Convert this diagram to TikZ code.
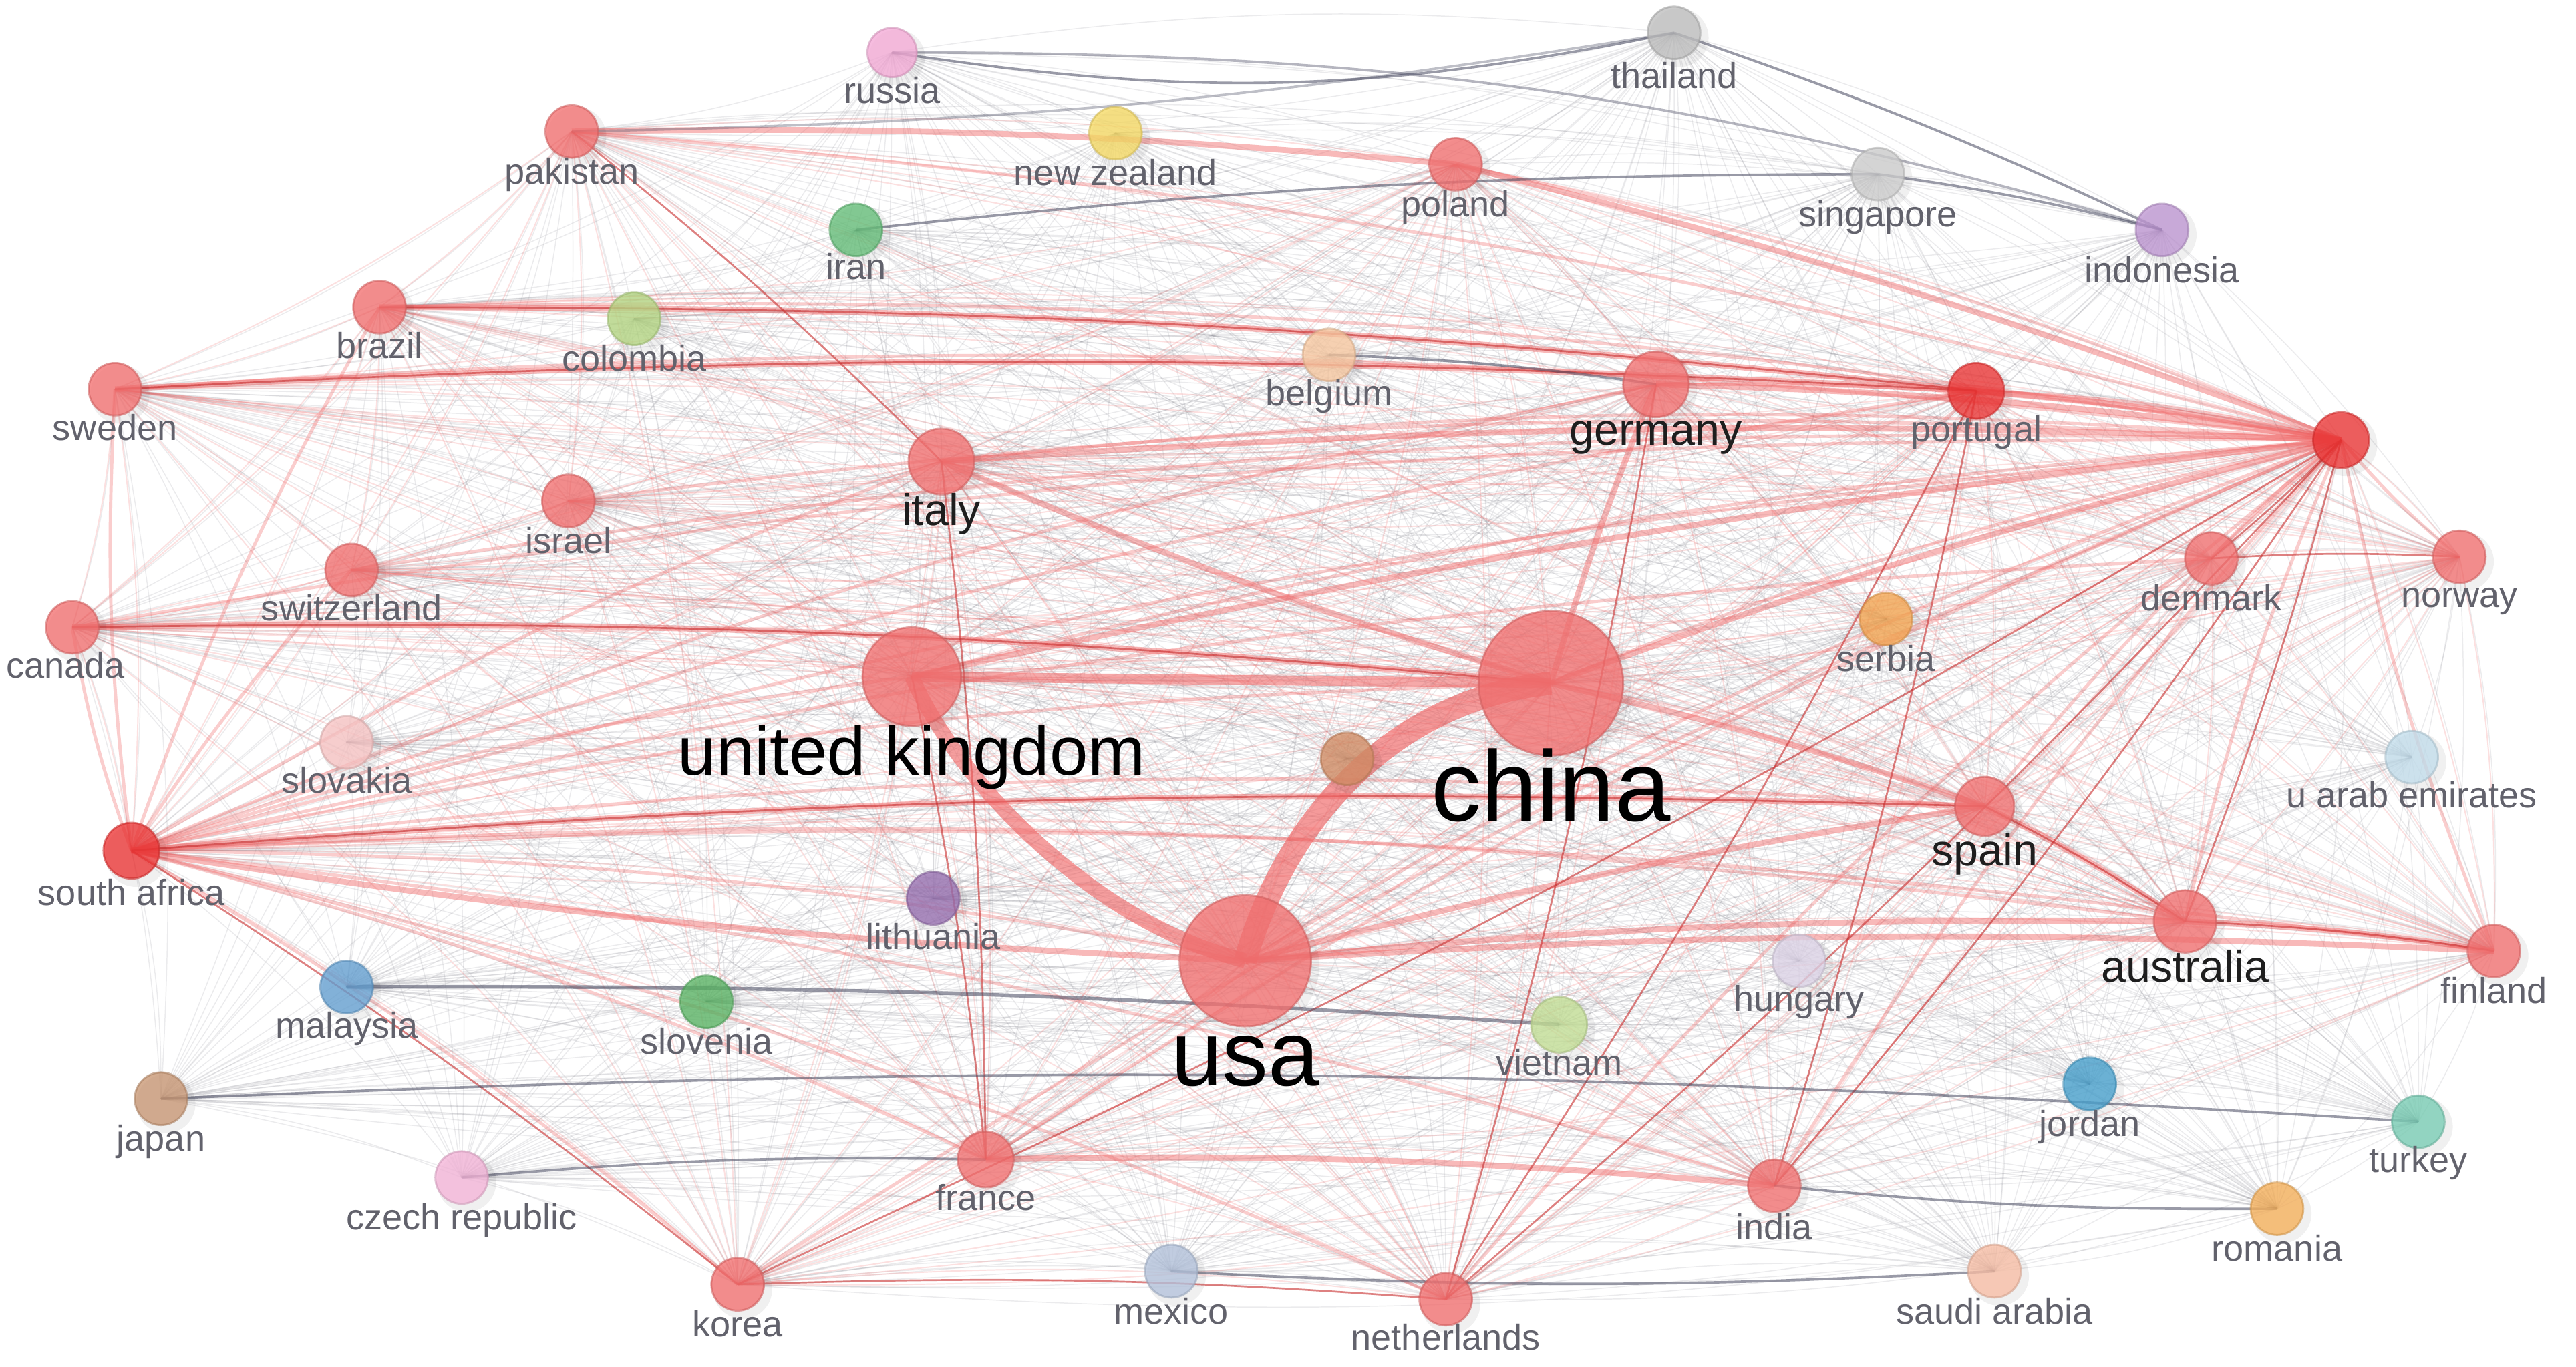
\documentclass[tikz,border=0pt]{standalone}
\usepackage{fontspec}
\setmainfont{Liberation Sans}
\definecolor{cred}{RGB}{243,112,112}
\definecolor{credd}{RGB}{236,52,52}
\definecolor{cedge}{RGB}{240,100,100}
\definecolor{cdark}{RGB}{200,45,45}
\definecolor{cgray}{RGB}{120,120,130}
\definecolor{cdgray}{RGB}{70,72,95}
\definecolor{clab}{RGB}{98,98,108}
\definecolor{clabm}{RGB}{30,30,30}
\definecolor{crussia}{RGB}{244,170,214}
\definecolor{cthai}{RGB}{190,190,190}
\definecolor{csing}{RGB}{205,205,205}
\definecolor{cnz}{RGB}{246,218,100}
\definecolor{cindo}{RGB}{190,150,210}
\definecolor{ciran}{RGB}{100,190,120}
\definecolor{ccol}{RGB}{180,214,130}
\definecolor{cbel}{RGB}{248,200,160}
\definecolor{cserb}{RGB}{245,165,80}
\definecolor{cslovak}{RGB}{248,196,196}
\definecolor{cbrown}{RGB}{210,140,100}
\definecolor{cuae}{RGB}{195,222,236}
\definecolor{clith}{RGB}{150,110,175}
\definecolor{chung}{RGB}{222,212,232}
\definecolor{cmal}{RGB}{100,160,210}
\definecolor{cslov}{RGB}{90,180,100}
\definecolor{cviet}{RGB}{196,224,150}
\definecolor{cjord}{RGB}{70,160,205}
\definecolor{cjap}{RGB}{200,150,115}
\definecolor{cturk}{RGB}{120,205,180}
\definecolor{cczech}{RGB}{244,180,216}
\definecolor{crom}{RGB}{246,176,90}
\definecolor{cmex}{RGB}{180,195,220}
\definecolor{csaudi}{RGB}{248,190,165}
\tikzset{
  mesh/.style={draw=cgray, line width=.3pt, opacity=.14},
  meshred/.style={draw=cedge, line width=.4pt, opacity=.2},
  redmed/.style={draw=cedge, line width=1pt, opacity=.32},
  redstrong/.style={draw=cedge, line width=1.8pt, opacity=.45},
  darkred/.style={draw=cdark, line width=.55pt, opacity=.6},
  darkgray/.style={draw=cdgray, line width=.75pt, opacity=.55},
  country/.style={circle, inner sep=0pt, fill opacity=.78, draw opacity=.6, line width=.6pt},
  lbl/.style={font=\fontsize{11}{13}\selectfont, text=clab, anchor=base, inner sep=0pt},
  lblm/.style={font=\fontsize{13.5}{16}\selectfont, text=clabm, anchor=base, inner sep=0pt},
  lblb/.style={text=black, anchor=base, inner sep=0pt},
}
\def\nodedata{russia/543/32/15/crussia, thailand/1019/20/16/cthai, pakistan/348/80/16/cred,
newzealand/679/81/16/cnz, poland/886/100/16/cred, singapore/1143/106/16/csing,
indonesia/1316/140/16/cindo, iran/521/140/16/ciran, brazil/231/187/16/cred,
colombia/386/194/16/ccol, belgium/809/216/16/cbel, germany/1008/234/20/cred,
portugal/1203/238/17/credd, rnode/1425/268/17/credd, sweden/70/237/16/cred,
italy/573/281/20/cred, israel/346/305/16/cred, denmark/1346/340/16/cred,
norway/1497/339/16/cred, switzerland/214/347/16/cred, canada/44/382/16/cred,
serbia/1148/377/16/cserb, uk/555/412/30/cred, china/944/416/44/cred,
slovakia/211/452/16/cslovak, brownnode/820/462/16/cbrown, uae/1468/461/16/cuae,
spain/1208/491/18/cred, safrica/80/518/17/credd, lithuania/568/547/16/clith,
australia/1330/561/19/cred, usa/758/585/40/cred, finland/1518/579/16/cred,
hungary/1095/585/16/chung, malaysia/211/601/16/cmal, slovenia/430/610/16/cslov,
vietnam/949/624/17/cviet, jordan/1272/660/16/cjord, japan/98/669/16/cjap,
turkey/1472/683/16/cturk, france/600/706/17/cred, czech/281/717/16/cczech,
india/1080/722/16/cred, romania/1386/736/16/crom, korea/449/782/16/cred,
mexico/713/774/16/cmex, netherlands/880/791/16/cred, saudi/1214/774/16/csaudi}
\def\allnames{russia,thailand,pakistan,newzealand,poland,singapore,indonesia,iran,brazil,colombia,belgium,germany,portugal,rnode,sweden,italy,israel,denmark,norway,switzerland,canada,serbia,uk,china,slovakia,brownnode,uae,spain,safrica,lithuania,australia,usa,finland,hungary,malaysia,slovenia,vietnam,jordan,japan,turkey,france,czech,india,romania,korea,mexico,netherlands,saudi}
\def\rednames{pakistan,poland,brazil,germany,portugal,rnode,sweden,italy,israel,denmark,norway,switzerland,canada,uk,china,spain,safrica,australia,usa,finland,france,india,korea,netherlands}
\begin{document}
\begin{tikzpicture}[x=0.5pt,y=-0.5pt]
\useasboundingbox (0,0) rectangle (1568,832);
\clip (0,0) rectangle (1568,832);
\fill[white] (0,0) rectangle (1568,832);
% positions
\foreach \n/\x/\y/\r/\c in \nodedata { \coordinate (\n) at (\x,\y); }
% background mesh
\foreach \a [count=\i] in \allnames {
  \foreach \b [count=\j] in \allnames {
    \ifnum\j>\i \draw[mesh] (\a) to[bend left=7] (\b); \fi
  }
}
\foreach \a [count=\i] in \rednames {
  \foreach \b [count=\j] in \rednames {
    \ifnum\j>\i \draw[meshred] (\a) to[bend left=6] (\b); \fi
  }
}
% hubs
\foreach \b in {italy,germany,portugal,uk,china,usa,switzerland,canada,safrica,israel,brazil,pakistan,poland,sweden,spain,australia,denmark,india,netherlands,korea,finland,norway,france}
  \draw[redmed] (rnode) to[bend right=5] (\b);
\foreach \b in {uk,china,usa,italy,germany,spain,australia,portugal,switzerland,canada,sweden,brazil,korea,france,netherlands,india,denmark,finland}
  \draw[redmed] (safrica) to[bend left=5] (\b);
% strong red
\foreach \a/\b in {italy/rnode,germany/rnode,portugal/rnode,sweden/portugal,brazil/portugal,pakistan/poland,poland/rnode,canada/china,safrica/spain,china/spain,usa/finland,australia/finland,usa/australia,china/germany,china/italy,uk/rnode,spain/australia,france/india,usa/safrica,china/rnode,usa/spain}
  \draw[redstrong] (\a) to[bend left=3] (\b);
\foreach \a/\b in {pakistan/italy,denmark/norway,sweden/portugal,brazil/portugal,safrica/spain,italy/france,australia/finland,spain/australia,rnode/india,rnode/netherlands,rnode/korea,germany/netherlands,portugal/india,portugal/netherlands,canada/china,rnode/denmark,rnode/australia,korea/netherlands,safrica/korea,uk/france}
  \draw[darkred] (\a) to[bend left=3] (\b);
% dark gray
\draw[darkgray] (russia) to[bend right=10] (thailand);
\draw[darkgray, opacity=.4] (russia) to[bend left=8] (indonesia);
\foreach \a/\b in {iran/singapore,singapore/indonesia,belgium/germany,czech/france,romania/india,saudi/mexico,japan/turkey,thailand/indonesia}
  \draw[darkgray] (\a) to[bend left=3] (\b);
\draw[darkgray, opacity=.35] (thailand) to[bend left=4] (pakistan);
\draw[darkgray, line width=1.1pt] (malaysia) to[bend left=2] (vietnam);
% main thick edges
\draw[draw=cedge, line width=3pt, opacity=.55] (uk) -- (china);
\draw[draw=cedge, line width=4.5pt, opacity=.62] (uk) .. controls +(25,58) and +(-98,-25) .. (usa);
\draw[draw=cedge, line width=7pt, opacity=.65] (usa) .. controls +(22,-80) and +(-100,10) .. (china);
% nodes
\foreach \n/\x/\y/\r/\c in \nodedata {
  \fill[black, opacity=.06] (\x+3,\y+3) circle (\r+2);
  \node[country, fill=\c, draw=\c!85!black, minimum size=\r pt] (N\n) at (\n) {};
}
% labels
\foreach \n/\x/\y/\t in {russia/543/63/russia, thailand/1019/54/thailand, pakistan/348/112/pakistan,
newzealand/679/113/new zealand, poland/886/132/poland, singapore/1143/138/singapore,
indonesia/1316/172/indonesia, iran/521/170/iran, brazil/231/218/brazil, colombia/386/226/colombia,
belgium/809/247/belgium, portugal/1203/269/portugal, sweden/70/268/sweden, israel/346/337/israel,
switzerland/214/378/switzerland, denmark/1346/372/denmark, norway/1497/370/norway,
canada/40/413/canada, serbia/1148/409/serbia, slovakia/211/483/slovakia,
uae/1468/492/u arab emirates, safrica/80/551/south africa, lithuania/568/578/lithuania,
finland/1518/611/finland, hungary/1095/616/hungary, malaysia/211/632/malaysia,
slovenia/430/642/slovenia, vietnam/949/655/vietnam, jordan/1272/692/jordan, japan/98/701/japan,
turkey/1472/714/turkey, czech/281/749/czech republic, france/600/737/france, india/1080/755/india,
romania/1386/768/romania, korea/449/814/korea, mexico/713/806/mexico,
netherlands/880/822/netherlands, saudi/1214/806/saudi arabia}
  \node[lbl] (L\n) at (\x,\y) {\t};
\foreach \n/\x/\y/\t in {germany/1008/271/germany, italy/573/320/italy, spain/1208/527/spain, australia/1330/598/australia}
  \node[lblm] (L\n) at (\x,\y) {\t};
\node[lblb, font=\fontsize{21}{24}\selectfont] (Luk) at (555,472) {united kingdom};
\node[lblb, font=\fontsize{30.5}{34}\selectfont] (Lchina) at (944,500) {china};
\node[lblb, font=\fontsize{28}{32}\selectfont] (Lusa) at (758,661) {usa};
\end{tikzpicture}
\end{document}
